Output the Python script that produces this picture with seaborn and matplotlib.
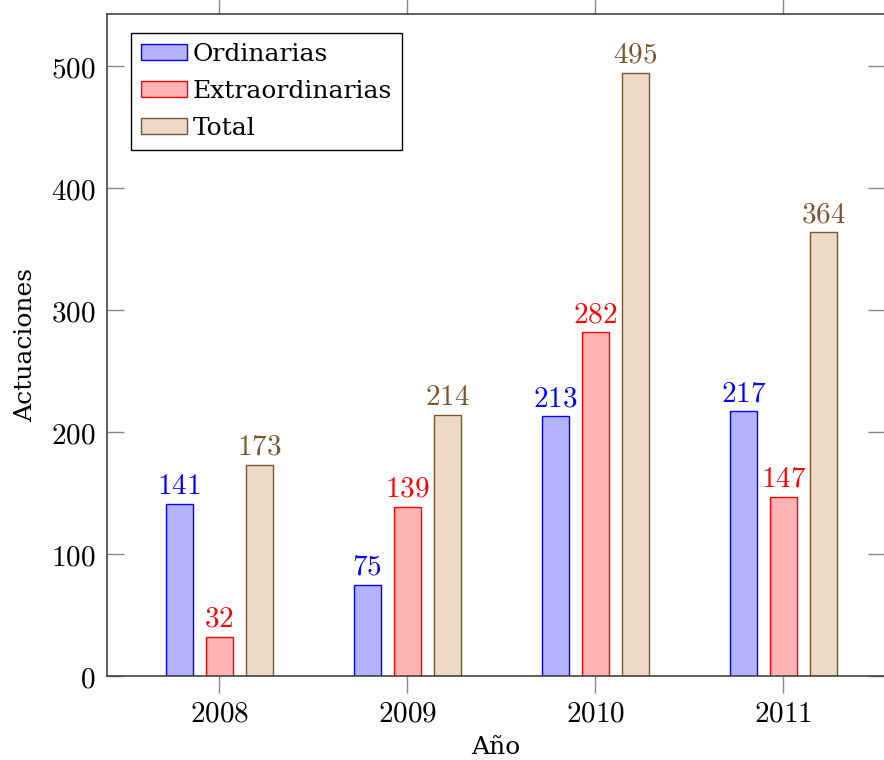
import matplotlib
matplotlib.use("Agg")
import matplotlib.pyplot as plt
import seaborn as sns
import pandas as pd

years = ["2008", "2009", "2010", "2011"]
ordinarias = [141, 75, 213, 217]
extraordinarias = [32, 139, 282, 147]
total = [173, 214, 495, 364]
series = ["Ordinarias", "Extraordinarias", "Total"]

fills = ["#b3b3ff", "#ffb3b3", "#ecd9c6"]
edges = ["#0000ff", "#ff0000", "#7a5530"]
label_colors = ["#0000ff", "#ff0000", "#7a5530"]

sns.set_theme(style="white")
plt.rcParams["font.family"] = ["DejaVu Serif"]
plt.rcParams["mathtext.fontset"] = "cm"
plt.rcParams["text.color"] = "black"
plt.rcParams["axes.labelcolor"] = "black"

df = pd.DataFrame({
    "Año": years * 3,
    "Actuaciones": ordinarias + extraordinarias + total,
    "Serie": [s for s in series for _ in years],
})

fig = plt.figure(figsize=(8.84, 7.6), dpi=100)
ax = fig.add_axes([107 / 884, 1 - 676 / 760, 777.5 / 884, 662 / 760])

sns.barplot(data=df, x="Año", y="Actuaciones", hue="Serie", order=years,
            hue_order=series, palette=fills, width=0.64, gap=0.32,
            saturation=1, ax=ax)

for cont, ec, lc in zip(ax.containers, edges, label_colors):
    for bar in cont:
        bar.set_edgecolor(ec)
        bar.set_linewidth(1.0)
    ax.bar_label(cont, labels=[f"${int(v.get_height())}$" for v in cont],
                 color=lc, fontsize=21, padding=3)

ax.set_xlim(-0.597, 3.538)
ax.set_ylim(0, 543)
ax.set_yticks([0, 100, 200, 300, 400, 500])
ax.set_xticklabels([f"${y}$" for y in years])
ax.set_yticklabels([f"${v}$" for v in [0, 100, 200, 300, 400, 500]])
ax.tick_params(axis="both", labelsize=21, colors="#888888", labelcolor="black")
ax.tick_params(axis="x", direction="out", length=12, width=1, top=True, bottom=True, pad=5)
ax.tick_params(axis="y", direction="in", length=12, width=1, left=True, right=True, pad=8)

for sp in ax.spines.values():
    sp.set_visible(True)
    sp.set_color("#444444")
    sp.set_linewidth(1.2)

ax.set_xlabel("Año", fontsize=18, labelpad=6, color="black")
ax.set_ylabel("Actuaciones", fontsize=18, labelpad=10, color="black")

leg = ax.legend(loc="upper left", bbox_to_anchor=(0.031, 0.971), fontsize=18,
                frameon=True, fancybox=False, framealpha=1, edgecolor="black",
                handlelength=1.85, handleheight=0.6, handletextpad=0.2,
                borderpad=0.4, labelspacing=0.55, borderaxespad=0)
leg.get_frame().set_linewidth(1.0)
for t in leg.get_texts():
    t.set_color("black")
for h, ec in zip(leg.legend_handles, edges):
    h.set_edgecolor(ec)
    h.set_linewidth(1.0)

fig.savefig("out.png", dpi=100)
